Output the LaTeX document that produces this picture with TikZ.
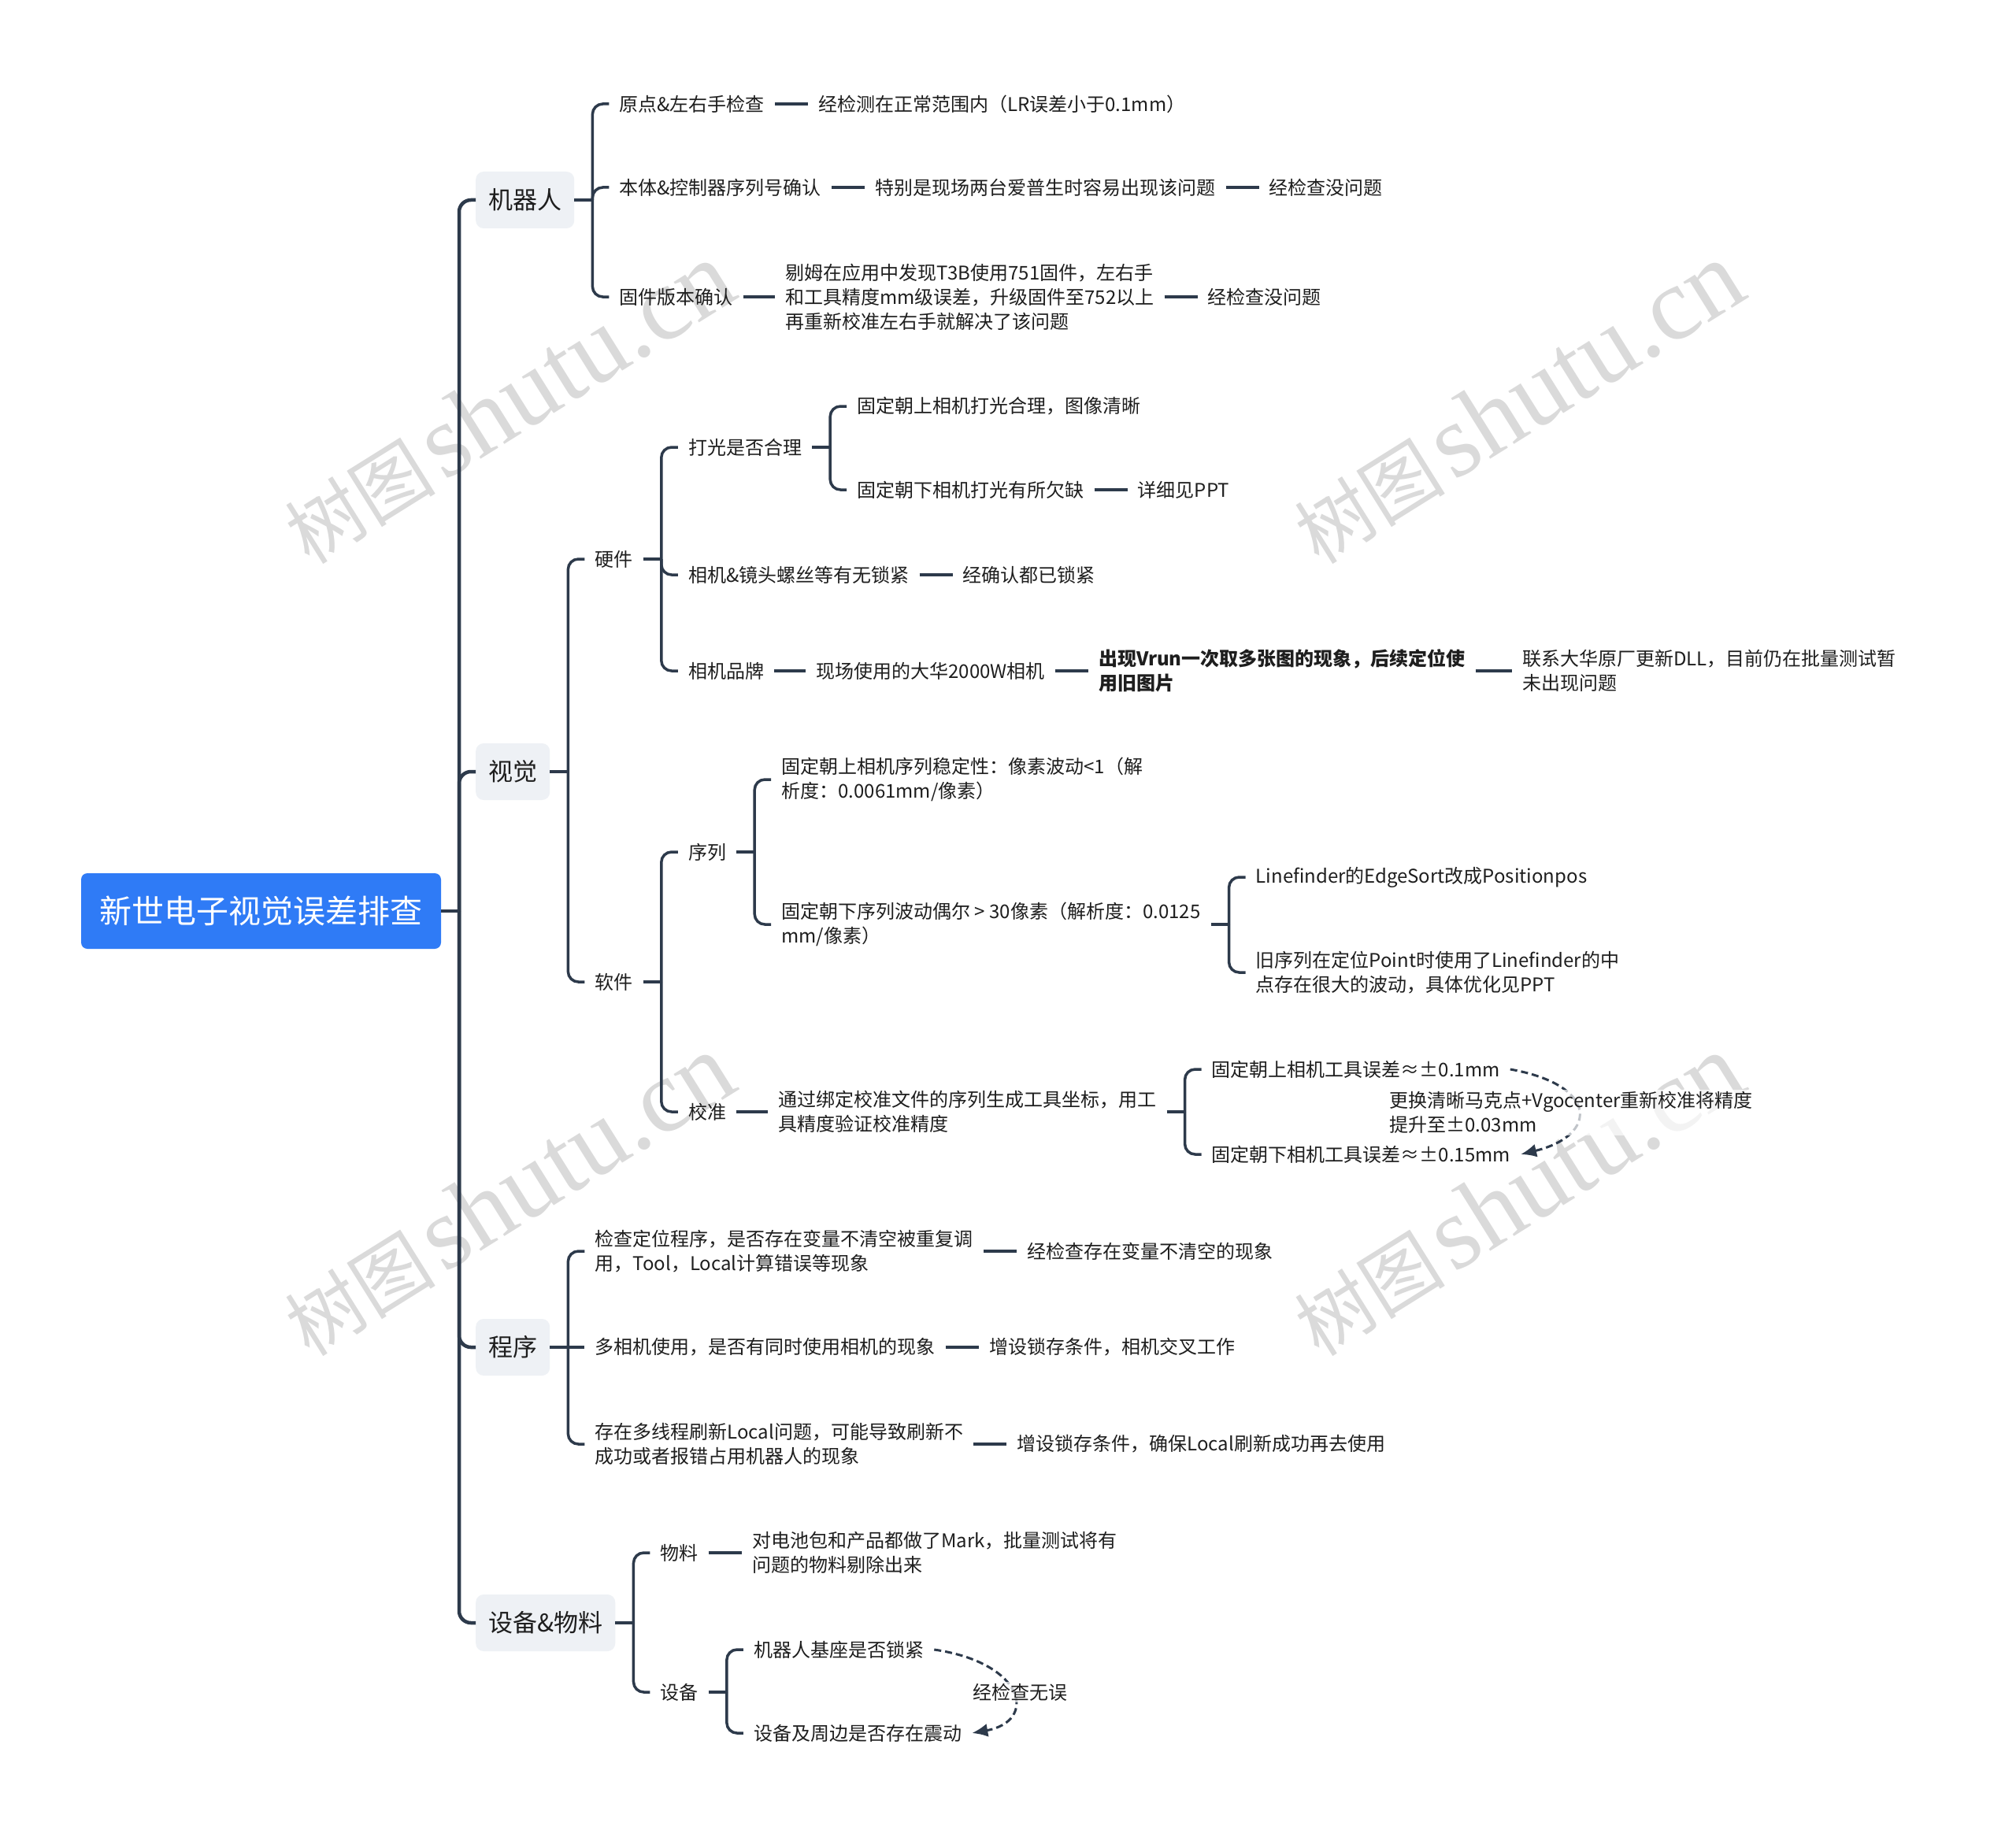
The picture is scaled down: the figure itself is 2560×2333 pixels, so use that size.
\documentclass[tikz,border=0pt]{standalone}
\usepackage{fontspec}
\setmainfont{Noto Sans CJK SC}
\newfontfamily\wmlatin{Liberation Serif}
\usetikzlibrary{arrows.meta,calc,positioning}
\definecolor{rootblue}{HTML}{2F7BF6}
\definecolor{lvfill}{HTML}{EEF1F5}
\definecolor{linec}{HTML}{2D3A4B}
\definecolor{txtc}{HTML}{1E1E1E}
\definecolor{wmc}{HTML}{DADADA}
\begin{document}
\begin{tikzpicture}[x=1pt,y=-1pt,
  root/.style={fill=rootblue, rounded corners=8pt, text=white, font=\fontsize{41}{48}\selectfont, minimum width=457pt, minimum height=96pt, inner sep=0pt},
  lvone/.style={fill=lvfill, rounded corners=10pt, text=txtc, font=\fontsize{31}{38}\selectfont, minimum height=72pt, inner xsep=16pt, anchor=west},
  tx/.style={text=txtc, font=\fontsize{24}{31}\selectfont, inner xsep=13pt, inner ysep=3pt, align=left, anchor=west},
  lbl/.style={text=txtc, font=\fontsize{24}{31}\selectfont, inner sep=2pt, align=left, fill=white, fill opacity=0.7, text opacity=1},
  ln/.style={draw=linec, line width=3.5pt},
  trunk/.style={draw=linec, line width=4.5pt, rounded corners=15pt},
  br/.style={draw=linec, line width=3.5pt, rounded corners=13pt},
  dsh/.style={draw=linec, line width=3pt, dash pattern=on 9pt off 5pt, -{Latex[length=20pt,width=17pt]}},
  wm/.style={text=wmc, rotate=32, inner sep=0pt}
]
\fill[white] (0,0) rectangle (2560,2333);
\useasboundingbox (0,0) rectangle (2560,2333);

% watermarks
\foreach \wx/\wy [count=\i] in {645/512, 1927/512, 645/1518, 1927/1518}{
  \node[wm] (wm\i) at (\wx,\wy) {{\fontsize{96}{96}\selectfont 树图}\hspace{10pt}{\wmlatin\fontsize{132}{132}\selectfont shutu.cn}};
}

% root and level one
\node[root] (root) at (331.5,1157) {新世电子视觉误差排查};
\node[lvone] (jqr) at (604,254) {机器人};
\node[lvone] (sj) at (604,980) {视觉};
\node[lvone] (cx) at (604,1711) {程序};
\node[lvone] (sb) at (604,2061) {设备\&物料};

\draw[trunk] (root.east) -- (583,1157) coordinate (tk);
\foreach \c in {jqr,sj,cx,sb} \draw[trunk] (tk) |- (\c.west);

% ===== 机器人
\draw[ln] (jqr.east) -- ++(23,0) coordinate (bj);
\node[tx] (j1) at ($(bj)+(21,-122)$) {原点\&左右手检查};
\node[tx] (j2) at ($(bj)+(21,-16)$) {本体\&控制器序列号确认};
\node[tx] (j3) at ($(bj)+(21,123)$) {固件版本确认};
\foreach \c in {j1,j2,j3} \draw[br] (bj) |- (\c.west);
\node[tx, right=42pt of j1] (j1a) {经检测在正常范围内（LR误差小于0.1mm）};
\draw[ln] (j1.east) -- (j1a.west);
\node[tx, right=42pt of j2] (j2a) {特别是现场两台爱普生时容易出现该问题};
\draw[ln] (j2.east) -- (j2a.west);
\node[tx, right=42pt of j2a] (j2b) {经检查没问题};
\draw[ln] (j2a.east) -- (j2b.west);
\node[tx, right=40pt of j3] (j3a) {剔姆在应用中发现T3B使用751固件，左右手\\和工具精度mm级误差，升级固件至752以上\\再重新校准左右手就解决了该问题};
\draw[ln] (j3.east) -- (j3a.west);
\node[tx, right=42pt of j3a] (j3b) {经检查没问题};
\draw[ln] (j3a.east) -- (j3b.west);

% ===== 视觉
\draw[ln] (sj.east) -- ++(23,0) coordinate (bs);
\node[tx] (yj) at ($(bs)+(21,-270)$) {硬件};
\node[tx] (rj) at ($(bs)+(21,267)$) {软件};
\foreach \c in {yj,rj} \draw[br] (bs) |- (\c.west);

% 硬件
\draw[ln] (yj.east) -- ++(23,0) coordinate (by);
\node[tx] (dg) at ($(by)+(21,-142)$) {打光是否合理};
\node[tx] (lw) at ($(by)+(21,20)$) {相机\&镜头螺丝等有无锁紧};
\node[tx] (pp) at ($(by)+(21,142)$) {相机品牌};
\foreach \c in {dg,lw,pp} \draw[br] (by) |- (\c.west);

\draw[ln] (dg.east) -- ++(23,0) coordinate (bd);
\node[tx] (dg1) at ($(bd)+(21,-52)$) {固定朝上相机打光合理，图像清晰};
\node[tx] (dg2) at ($(bd)+(21,54)$) {固定朝下相机打光有所欠缺};
\foreach \c in {dg1,dg2} \draw[br] (bd) |- (\c.west);
\node[tx, right=42pt of dg2] (dg2a) {详细见PPT};
\draw[ln] (dg2.east) -- (dg2a.west);

\node[tx, right=42pt of lw] (lwa) {经确认都已锁紧};
\draw[ln] (lw.east) -- (lwa.west);

\node[tx, right=40pt of pp] (ppa) {现场使用的大华2000W相机};
\draw[ln] (pp.east) -- (ppa.west);
\node[tx, right=42pt of ppa, font=\fontsize{24}{31}\selectfont\bfseries] (ppb) {出现Vrun一次取多张图的现象，后续定位使\\用旧图片};
\draw[ln] (ppa.east) -- (ppb.west);
\node[tx, right=46pt of ppb] (ppc) {联系大华原厂更新DLL，目前仍在批量测试暂\\未出现问题};
\draw[ln] (ppb.east) -- (ppc.west);

% 软件
\draw[ln] (rj.east) -- ++(23,0) coordinate (brr);
\node[tx] (xl) at ($(brr)+(21,-165)$) {序列};
\node[tx] (jz) at ($(brr)+(21,165)$) {校准};
\foreach \c in {xl,jz} \draw[br] (brr) |- (\c.west);

\draw[ln] (xl.east) -- ++(23,0) coordinate (bx);
\node[tx] (xl1) at ($(bx)+(21,-92)$) {固定朝上相机序列稳定性：像素波动<1（解\\析度：0.0061mm/像素）};
\node[tx] (xl2) at ($(bx)+(21,92)$) {固定朝下序列波动偶尔 > 30像素（解析度：0.0125\\mm/像素）};
\foreach \c in {xl1,xl2} \draw[br] (bx) |- (\c.west);

\draw[ln] (xl2.east) -- ++(23,0) coordinate (bx2);
\node[tx] (xl21) at ($(bx2)+(21,-60)$) {Linefinder的EdgeSort改成Positionpos};
\node[tx] (xl22) at ($(bx2)+(21,61)$) {旧序列在定位Point时使用了Linefinder的中\\点存在很大的波动，具体优化见PPT};
\foreach \c in {xl21,xl22} \draw[br] (bx2) |- (\c.west);

\node[tx, right=40pt of jz] (jz1) {通过绑定校准文件的序列生成工具坐标，用工\\具精度验证校准精度};
\draw[ln] (jz.east) -- (jz1.west);
\draw[ln] (jz1.east) -- ++(23,0) coordinate (bj2);
\node[tx] (gj1) at ($(bj2)+(21,-54)$) {固定朝上相机工具误差≈±0.1mm};
\node[tx] (gj2) at ($(bj2)+(21,54)$) {固定朝下相机工具误差≈±0.15mm};
\foreach \c in {gj1,gj2} \draw[br] (bj2) |- (\c.west);
\draw[dsh] (gj1.east) .. controls (2030,1378) and (2030,1442) .. (gj2.east);
\node[lbl] (gjl) at (1995,1413) {更换清晰马克点+Vgocenter重新校准将精度\\提升至±0.03mm};

% ===== 程序
\draw[ln] (cx.east) -- ++(23,0) coordinate (bc);
\node[tx] (c1) at ($(bc)+(21,-122)$) {检查定位程序，是否存在变量不清空被重复调\\用，Tool，Local计算错误等现象};
\node[tx] (c2) at ($(bc)+(21,0)$) {多相机使用，是否有同时使用相机的现象};
\node[tx] (c3) at ($(bc)+(21,123)$) {存在多线程刷新Local问题，可能导致刷新不\\成功或者报错占用机器人的现象};
\draw[br] (bc) |- (c1.west);
\draw[ln] (bc) -- (c2.west);
\draw[br] (bc) |- (c3.west);
\node[tx, right=42pt of c1] (c1a) {经检查存在变量不清空的现象};
\draw[ln] (c1.east) -- (c1a.west);
\node[tx, right=42pt of c2] (c2a) {增设锁存条件，相机交叉工作};
\draw[ln] (c2.east) -- (c2a.west);
\node[tx, right=42pt of c3] (c3a) {增设锁存条件，确保Local刷新成功再去使用};
\draw[ln] (c3.east) -- (c3a.west);

% ===== 设备&物料
\draw[ln] (sb.east) -- ++(23,0) coordinate (bb);
\node[tx] (wl) at ($(bb)+(21,-89)$) {物料};
\node[tx] (sbb) at ($(bb)+(21,88)$) {设备};
\foreach \c in {wl,sbb} \draw[br] (bb) |- (\c.west);
\node[tx, right=42pt of wl] (wla) {对电池包和产品都做了Mark，批量测试将有\\问题的物料剔除出来};
\draw[ln] (wl.east) -- (wla.west);

\draw[ln] (sbb.east) -- ++(23,0) coordinate (bs2);
\node[tx] (d1) at ($(bs2)+(21,-54)$) {机器人基座是否锁紧};
\node[tx] (d2) at ($(bs2)+(21,52)$) {设备及周边是否存在震动};
\foreach \c in {d1,d2} \draw[br] (bs2) |- (\c.west);
\draw[dsh] (d1.east) .. controls (1302,2112) and (1318,2186) .. (d2.east);
\node[lbl] (dl) at (1295,2149) {经检查无误};
\end{tikzpicture}
\end{document}
